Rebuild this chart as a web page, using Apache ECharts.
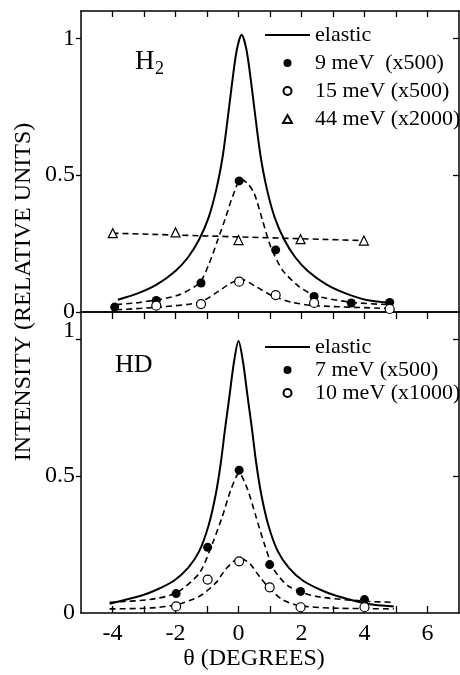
<!DOCTYPE html>
<html>
<head>
<meta charset="utf-8">
<script src="https://cdn.jsdelivr.net/npm/echarts@6/dist/echarts.min.js"></script>
<style>
  html, body { margin: 0; padding: 0; background: #fff; }
  #chart { width: 460px; height: 675px; }
</style>
</head>
<body>
<div id="chart"></div>
<script>
// ---- data: [theta (deg), intensity] ----
// H2 panel
const h2Elastic = [[-3.83, 0.045], [-3.2, 0.068], [-2.6, 0.1], [-2.0, 0.15], [-1.6, 0.2], [-1.25, 0.265],
  [-0.95, 0.345], [-0.7, 0.45], [-0.5, 0.57], [-0.35, 0.7], [-0.2, 0.84], [-0.05, 0.96], [0.1, 1.013],
  [0.25, 0.96], [0.4, 0.84], [0.55, 0.7], [0.7, 0.57], [0.9, 0.45], [1.15, 0.345], [1.45, 0.265],
  [1.8, 0.2], [2.2, 0.15], [2.8, 0.1], [3.4, 0.068], [4.03, 0.045], [4.77, 0.034]];
const h2Pts9 = [[-3.93, 0.018], [-2.61, 0.042], [-1.19, 0.106], [0.02, 0.479], [1.18, 0.227], [2.4, 0.057], [3.58, 0.033], [4.8, 0.035]];
const h2Pts15 = [[-2.61, 0.023], [-1.19, 0.029], [0.02, 0.111], [1.18, 0.062], [2.4, 0.033], [4.8, 0.011]];
const h2Pts44 = [[-3.99, 0.288], [-2.0, 0.291], [0, 0.263], [1.97, 0.266], [3.98, 0.261]];
const h2Fit9 = [[-3.88, 0.027], [-3.14, 0.035], [-1.98, 0.059], [-1.24, 0.106], [-0.93, 0.178], [-0.66, 0.263],
  [-0.4, 0.348], [-0.19, 0.421], [0.08, 0.485], [0.29, 0.47], [0.5, 0.433], [0.76, 0.336], [1.02, 0.239],
  [1.39, 0.154], [1.92, 0.093], [2.45, 0.059], [3.61, 0.035], [4.77, 0.027]];
const h2Fit15 = [[-3.88, 0.008], [-2.51, 0.018], [-1.24, 0.035], [-0.72, 0.069], [-0.24, 0.106], [0.08, 0.12],
  [0.55, 0.093], [1.08, 0.059], [1.71, 0.035], [2.45, 0.023], [4.77, 0.013]];
const h2Fit44 = [[-4, 0.288], [4, 0.261]];

// HD panel
const hdElastic = [[-4.09, 0.034], [-3.1, 0.063], [-2.6, 0.085], [-2.05, 0.118], [-1.6, 0.165], [-1.25, 0.225],
  [-0.95, 0.32], [-0.72, 0.435], [-0.56, 0.55], [-0.43, 0.67], [-0.29, 0.79], [-0.14, 0.92], [0, 0.994],
  [0.14, 0.92], [0.29, 0.79], [0.43, 0.67], [0.56, 0.55], [0.72, 0.435], [0.95, 0.32], [1.25, 0.225],
  [1.6, 0.165], [2.05, 0.118], [2.6, 0.085], [3.1, 0.063], [4.09, 0.034], [4.93, 0.024]];
const hdPts7 = [[-1.98, 0.071], [-0.98, 0.24], [0.02, 0.522], [0.99, 0.177], [1.97, 0.079], [4.0, 0.049]];
const hdPts10 = [[-1.98, 0.024], [-0.98, 0.122], [0.02, 0.189], [0.99, 0.094], [1.97, 0.021], [4.0, 0.021]];
const hdFit7 = [[-4.09, 0.039], [-2.83, 0.049], [-1.98, 0.073], [-1.24, 0.146], [-0.82, 0.256], [-0.51, 0.354],
  [-0.24, 0.451], [0.02, 0.512], [0.29, 0.451], [0.55, 0.354], [0.81, 0.256], [1.13, 0.158], [1.6, 0.097],
  [2.45, 0.061], [4.03, 0.043], [4.93, 0.039]];
const hdFit10 = [[-4.09, 0.015], [-2.83, 0.018], [-1.98, 0.03], [-1.24, 0.061], [-0.72, 0.11], [-0.4, 0.161],
  [0.02, 0.201], [0.34, 0.183], [0.66, 0.134], [0.97, 0.091], [1.39, 0.049], [1.92, 0.027], [2.97, 0.018], [4.93, 0.015]];

const xTicks = [-4, -3, -2, -1, 0, 1, 2, 3, 4, 5, 6];
const xLabels = [-4, -2, 0, 2, 4, 6];
const yLabels = [0, 0.5, 1];
const yTicksRight = [0.5, 1];

const FONT = '"Liberation Serif", "Times New Roman", serif';
const INK = '#000';
const LINE_ICON = 'path://M0,0 L45,0 L45,2 L0,2 Z';
const TRI_ICON = 'path://M5,0 L10,9 L0,9 Z';

const chart = echarts.init(document.getElementById('chart'), null, { renderer: 'canvas' });

function xAx(grid, pos, opt) {
  return Object.assign({
    type: 'value', gridIndex: grid, position: pos, min: -5, max: 7,
    axisLine: { onZero: false, lineStyle: { color: INK, width: 1.5 } },
    axisTick: { show: true, inside: true, length: 6, customValues: xTicks, lineStyle: { color: INK, width: 1.3 } },
    axisLabel: { show: false },
    splitLine: { show: false }
  }, opt);
}
function yAx(grid, pos, opt) {
  return Object.assign({
    type: 'value', gridIndex: grid, position: pos, min: 0, max: 1.1,
    axisLine: { onZero: false, lineStyle: { color: INK, width: 1.5 } },
    axisTick: { show: true, inside: true, length: 6, customValues: yTicksRight, lineStyle: { color: INK, width: 1.3 } },
    axisLabel: { show: false },
    splitLine: { show: false }
  }, opt);
}
const labelFont = { color: INK, fontFamily: FONT, fontSize: 24 };

function line(name, data, xi, yi, dashed) {
  return {
    name: name, type: 'line', data: data, xAxisIndex: xi, yAxisIndex: yi,
    symbol: 'none', smooth: dashed ? 0.25 : 0.3, z: 2, silent: true,
    itemStyle: { color: INK },
    lineStyle: dashed ? { color: INK, width: 1.6, type: [6, 4] } : { color: INK, width: 2 }
  };
}
function dots(name, data, xi, yi, symbol, filled) {
  return {
    name: name, type: 'scatter', data: data, xAxisIndex: xi, yAxisIndex: yi,
    symbol: symbol, symbolSize: 9, z: 4, silent: true,
    itemStyle: filled ? { color: INK, opacity: 1 } : { color: '#fff', borderColor: INK, borderWidth: 1.2, opacity: 1 }
  };
}

const legendText = { fontFamily: FONT, fontSize: 22, color: INK, lineHeight: 22 };

chart.setOption({
  animation: false,
  backgroundColor: '#fff',
  grid: [
    { left: 81, right: 1, top: 11, height: 301 },
    { left: 81, right: 1, top: 312, height: 301 }
  ],
  xAxis: [
    xAx(0, 'bottom', { axisTick: { show: true, inside: false, length: 7, customValues: xTicks, lineStyle: { color: INK, width: 1.3 } } }),
    xAx(0, 'top', {}),
    xAx(1, 'bottom', {
      axisTick: { show: true, inside: true, length: 7, customValues: xTicks, lineStyle: { color: INK, width: 1.3 } },
      axisLabel: Object.assign({ show: true, customValues: xLabels, margin: 9 }, labelFont)
    }),
    xAx(1, 'top', { axisTick: { show: false } })
  ],
  yAxis: [
    yAx(0, 'left', {
      axisTick: { show: true, inside: false, length: 5, customValues: yLabels, lineStyle: { color: INK, width: 1.3 } },
      axisLabel: Object.assign({ show: true, customValues: yLabels, margin: 6 }, labelFont)
    }),
    yAx(0, 'right', {}),
    yAx(1, 'left', {
      axisTick: { show: true, inside: false, length: 5, customValues: yTicksRight, lineStyle: { color: INK, width: 1.3 } },
      axisLabel: Object.assign({
        show: true, customValues: yLabels, margin: 6,
        // the "1" of the lower panel sits a little higher in the original
        formatter: function (v) { return v === 1 ? '{up|1}' : String(v); },
        rich: { up: { fontFamily: FONT, fontSize: 24, color: INK, padding: [0, 0, 18, 0] } }
      }, labelFont)
    }),
    yAx(1, 'right', {})
  ],
  legend: [
    {
      data: [
        { name: 'elastic', icon: LINE_ICON },
        { name: '9 meV  (x500)' },
        { name: '15 meV (x500)' },
        { name: '44 meV (x2000)', icon: TRI_ICON }
      ],
      orient: 'vertical', left: 265, top: 24, padding: 0,
      itemWidth: 45, itemHeight: 8, itemGap: 6, selectedMode: false,
      textStyle: legendText
    },
    {
      data: [
        { name: 'elastic', icon: LINE_ICON },
        { name: '7 meV (x500)' },
        { name: '10 meV (x1000)' }
      ],
      orient: 'vertical', left: 265, top: 336, padding: 0,
      itemWidth: 45, itemHeight: 8, itemGap: 1, selectedMode: false,
      textStyle: legendText
    }
  ],
  graphic: [
    { type: 'text', x: 135, y: 62, style: { text: 'H', font: '27px ' + FONT, fill: INK, verticalAlign: 'middle' } },
    { type: 'text', x: 155, y: 69, style: { text: '2', font: '18px ' + FONT, fill: INK, verticalAlign: 'middle' } },
    { type: 'text', x: 115, y: 365, style: { text: 'HD', font: '26px ' + FONT, fill: INK, verticalAlign: 'middle' } },
    { type: 'text', x: 24, y: 292, rotation: Math.PI / 2,
      style: { text: 'INTENSITY (RELATIVE UNITS)', font: '24px ' + FONT, fill: INK, align: 'center', verticalAlign: 'middle' } },
    { type: 'text', x: 254, y: 659,
      style: { text: 'θ (DEGREES)', font: '24px ' + FONT, fill: INK, align: 'center', verticalAlign: 'middle' } }
  ],
  series: [
    line('elastic', h2Elastic, 0, 0, false),
    line('9 meV fit', h2Fit9, 0, 0, true),
    line('15 meV fit', h2Fit15, 0, 0, true),
    line('44 meV fit', h2Fit44, 0, 0, true),
    dots('9 meV  (x500)', h2Pts9, 0, 0, 'circle', true),
    dots('15 meV (x500)', h2Pts15, 0, 0, 'circle', false),
    dots('44 meV (x2000)', h2Pts44, 0, 0, 'triangle', false),

    line('elastic', hdElastic, 2, 2, false),
    line('7 meV fit', hdFit7, 2, 2, true),
    line('10 meV fit', hdFit10, 2, 2, true),
    dots('7 meV (x500)', hdPts7, 2, 2, 'circle', true),
    dots('10 meV (x1000)', hdPts10, 2, 2, 'circle', false)
  ]
});
</script>
</body>
</html>
